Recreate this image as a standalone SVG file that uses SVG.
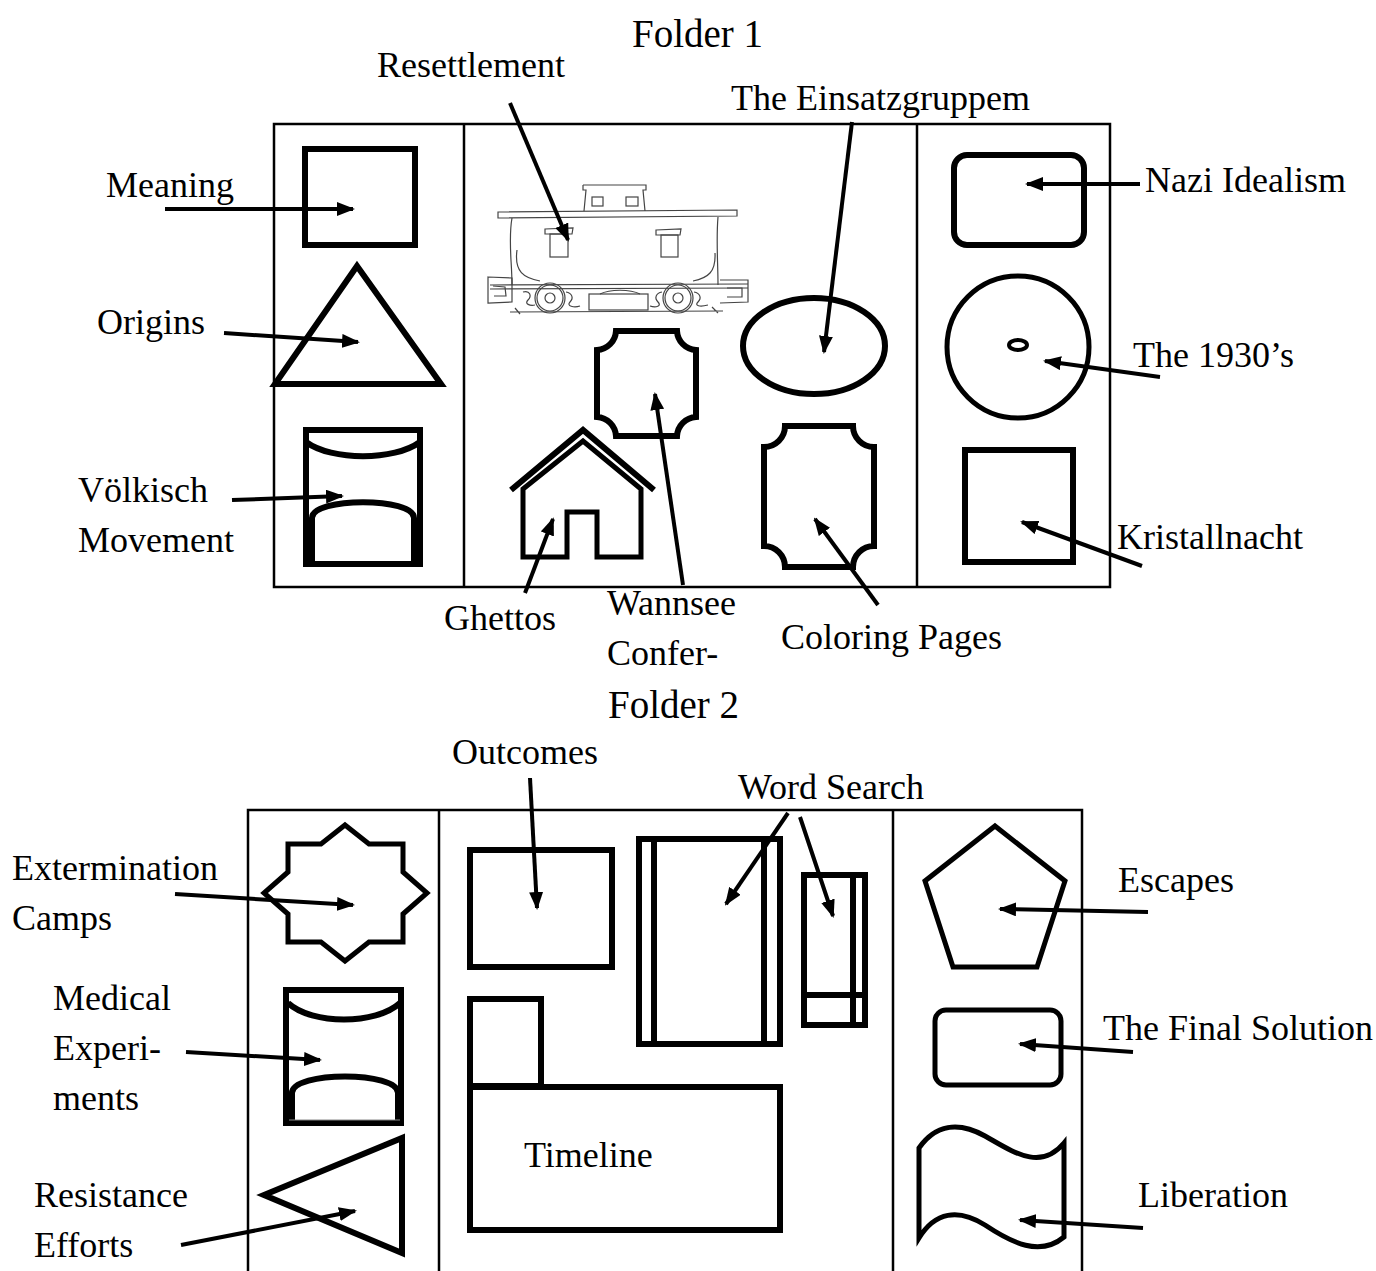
<svg xmlns="http://www.w3.org/2000/svg" width="1376" height="1271" viewBox="0 0 1376 1271">
<defs>
<style>
.t{font-family:"Liberation Serif","Times New Roman",serif;font-size:36px;fill:#000}
.h{font-family:"Liberation Serif","Times New Roman",serif;font-size:39px;fill:#000}
.fr{fill:none;stroke:#000;stroke-width:2.5}
.sh{fill:none;stroke:#000;stroke-width:6;stroke-linejoin:miter}
.sh5{fill:none;stroke:#000;stroke-width:5}
.cab{fill:none;stroke:#444;stroke-width:1.2}
.arr{fill:none;stroke:#000;stroke-width:4;marker-end:url(#ah)}
</style>
<marker id="ah" markerUnits="userSpaceOnUse" markerWidth="18" markerHeight="14" viewBox="0 0 18 14" refX="16" refY="7" orient="auto">
<path d="M0,0 L18,7 L0,14 Z" fill="#000"/>
</marker>
</defs>
<rect width="1376" height="1271" fill="#fff"/>

<g id="folder1-frame">
<rect class="fr" x="274" y="124" width="836" height="463"/>
<line class="fr" x1="464" y1="124" x2="464" y2="587" stroke-width="3"/>
<line class="fr" x1="917" y1="124" x2="917" y2="587" stroke-width="3"/>
</g>
<g id="folder2-frame">
<path class="fr" d="M248,1271 V810 H1082 V1271"/>
<line class="fr" x1="439" y1="810" x2="439" y2="1271" stroke-width="3"/>
<line class="fr" x1="893" y1="810" x2="893" y2="1271" stroke-width="3"/>
</g>

<g id="titles">
<text class="h" x="632" y="47">Folder 1</text>
<text class="h" x="608" y="718">Folder 2</text>
</g>

<g id="meaning"><rect class="sh" x="305" y="149" width="110" height="96"/><text class="t" x="106" y="197">Meaning</text></g>
<g id="origins"><polygon class="sh" points="357,266 441,384 275,384"/><text class="t" x="97" y="334">Origins</text></g>
<g id="volkisch">
<rect class="sh" x="306" y="430" width="114" height="134"/>
<path class="sh" d="M306,442 C332,461 394,461 420,442"/>
<path class="sh" d="M312,564 V518 C312,497 414,497 414,518 V564"/>
<text class="t" x="78" y="502">Völkisch</text><text class="t" x="78" y="552">Movement</text>
</g>

<g id="resettlement">
<g class="cab">
<path d="M583,185 L646,185 L646,190 L643,190 L645,211 M583,185 L583,190 L586,190 L584,211"/>
<rect x="592" y="197" width="11" height="9"/>
<rect x="626" y="197" width="12" height="9"/>
<path d="M498,212 L737,210 L737,216 L498,218 Z"/>
<path d="M512,218 C508,240 512,262 512,285 M718,217 C716,240 718,262 718,285"/>
<path d="M545,229 L573,228 L572,234 L545,234 Z"/>
<rect x="550" y="234" width="18" height="23"/>
<path d="M656,230 L681,229 L680,235 L656,235 Z"/>
<rect x="661" y="235" width="17" height="22"/>
<path d="M517,250 C514,272 524,278 540,281 M715,253 C716,272 708,278 693,281"/>
<path d="M490,285 L748,284 M490,289 L748,288"/>
<path d="M488,277 L512,278 L512,302 L488,303 Z M493,286 L505,287 L506,296 L494,296"/>
<path d="M720,280 L748,280 L748,302 L720,303 M727,288 L742,288 L742,297 L727,297"/>
<circle cx="550" cy="298" r="15"/><circle cx="550" cy="298" r="13"/><circle cx="550" cy="298" r="5"/>
<circle cx="678" cy="298" r="15"/><circle cx="678" cy="298" r="13"/><circle cx="678" cy="298" r="5"/>
<path d="M523,292 C530,290 532,296 528,300 C524,304 530,306 535,305 M566,292 C572,293 574,298 570,302 C566,306 574,308 580,306"/>
<path d="M662,292 C656,293 654,298 658,302 C662,306 656,308 650,306 M694,292 C700,293 702,298 698,302 C694,306 700,307 708,305"/>
<rect x="589" y="294" width="59" height="16"/>
<path d="M510,312 L723,311 M515,308 L520,314 M712,307 L718,313"/>
<path d="M600,294 C610,289 630,289 640,294"/>
</g>
<text class="t" x="377" y="77">Resettlement</text>
</g>

<g id="ghettos">
<polyline class="sh" points="511,490 583,430 654,490" stroke-width="7"/>
<polygon class="sh5" points="523,489 583,441 641,489 641,557 597,557 597,512 567,512 567,557 523,557"/>
<text class="t" x="444" y="630">Ghettos</text>
</g>

<g id="wannsee">
<path class="sh" d="M616,331 H677 A20,20 0 0 0 696,350 V417 A20,20 0 0 0 677,436 H616 A20,20 0 0 0 597,417 V350 A20,20 0 0 0 616,331 Z"/>
<text class="t" x="607" y="615">Wannsee</text><text class="t" x="607" y="665">Confer-</text>
</g>

<g id="einsatzgruppem">
<ellipse class="sh" cx="814" cy="346" rx="71" ry="48"/>
<text class="t" x="731" y="110">The Einsatzgruppem</text>
</g>

<g id="coloring">
<path class="sh" d="M785,426 H853 A21,21 0 0 0 874,447 V546 A21,21 0 0 0 853,567 H785 A21,21 0 0 0 764,546 V447 A21,21 0 0 0 785,426 Z"/>
<text class="t" x="781" y="649">Coloring Pages</text>
</g>

<g id="nazi-idealism"><rect class="sh" x="954" y="155" width="130" height="90" rx="13"/><text class="t" x="1145" y="192">Nazi Idealism</text></g>
<g id="the-1930s">
<circle class="sh5" cx="1018" cy="347" r="71"/>
<ellipse cx="1018" cy="345" rx="9" ry="5" fill="none" stroke="#000" stroke-width="4"/>
<text class="t" x="1133" y="367">The 1930’s</text>
</g>
<g id="kristallnacht"><rect class="sh" x="965" y="450" width="108" height="112"/><text class="t" x="1117" y="549">Kristallnacht</text></g>

<g id="extermination">
<polygon class="sh5" points="345,825 369,844 403,844 403,872 427,893 403,914 403,942 369,942 345,961 321,942 288,942 288,914 264,893 288,872 288,844 321,844"/>
<text class="t" x="12" y="880">Extermination</text><text class="t" x="12" y="930">Camps</text>
</g>
<g id="medical">
<rect class="sh" x="286" y="990" width="115" height="133"/>
<path class="sh" d="M288,1003 C312,1025 376,1025 400,1003"/>
<path class="sh" d="M292,1122 V1093 C292,1071 398,1071 398,1093 V1122"/>
<line x1="289" y1="1120" x2="400" y2="1120" stroke="#888" stroke-width="1"/>
<text class="t" x="53" y="1010">Medical</text><text class="t" x="53" y="1060">Experi-</text><text class="t" x="53" y="1110">ments</text>
</g>
<g id="resistance">
<polygon class="sh" points="402,1138 402,1253 264,1195"/>
<text class="t" x="34" y="1207">Resistance</text><text class="t" x="34" y="1257">Efforts</text>
</g>

<g id="outcomes"><rect class="sh" x="470" y="850" width="142" height="117"/><text class="t" x="452" y="764">Outcomes</text></g>
<g id="word-search">
<rect class="sh" x="639" y="839" width="141" height="205"/>
<line class="sh" x1="654" y1="839" x2="654" y2="1044"/>
<line class="sh" x1="764" y1="839" x2="764" y2="1044"/>
<rect class="sh" x="804" y="875" width="61" height="150"/>
<line class="sh" x1="853" y1="875" x2="853" y2="1025"/>
<line class="sh" x1="804" y1="995" x2="865" y2="995"/>
<text class="t" x="738" y="799">Word Search</text>
</g>
<g id="timeline">
<rect class="sh" x="470" y="999" width="71" height="87"/>
<rect class="sh" x="470" y="1087" width="310" height="143"/>
<text class="t" x="524" y="1167">Timeline</text>
</g>

<g id="escapes"><polygon class="sh5" points="995,826 1065,881 1037,967 953,967 925,881"/><text class="t" x="1118" y="892">Escapes</text></g>
<g id="final-solution"><rect class="sh5" x="935" y="1010" width="126" height="75" rx="11"/><text class="t" x="1103" y="1040">The Final Solution</text></g>
<g id="liberation">
<path class="sh5" d="M919,1148 C935,1125 958,1121 985,1136 C1012,1151 1040,1172 1064,1143 V1237 C1040,1257 1012,1243 985,1225 C958,1208 935,1212 919,1238 Z"/>
<text class="t" x="1138" y="1207">Liberation</text>
</g>

<g id="connectors">
<line class="arr" x1="510" y1="103" x2="568" y2="240"/>
<line class="arr" x1="852" y1="122" x2="824" y2="352"/>
<line class="arr" x1="165" y1="209" x2="353" y2="209"/>
<line class="arr" x1="1140" y1="184" x2="1027" y2="184"/>
<line class="arr" x1="224" y1="333" x2="358" y2="342"/>
<line class="arr" x1="1160" y1="377" x2="1045" y2="361"/>
<line class="arr" x1="232" y1="500" x2="342" y2="496"/>
<line class="arr" x1="1142" y1="566" x2="1022" y2="522"/>
<line class="arr" x1="525" y1="593" x2="553" y2="519"/>
<line class="arr" x1="683" y1="585" x2="655" y2="394"/>
<line class="arr" x1="878" y1="605" x2="815" y2="519"/>
<line class="arr" x1="530" y1="778" x2="537" y2="908"/>
<line class="arr" x1="788" y1="813" x2="726" y2="904"/>
<line class="arr" x1="800" y1="817" x2="833" y2="916"/>
<line class="arr" x1="175" y1="894" x2="353" y2="905"/>
<line class="arr" x1="1148" y1="912" x2="1000" y2="909"/>
<line class="arr" x1="186" y1="1052" x2="320" y2="1060"/>
<line class="arr" x1="1133" y1="1052" x2="1020" y2="1044"/>
<line class="arr" x1="181" y1="1245" x2="355" y2="1211"/>
<line class="arr" x1="1143" y1="1228" x2="1020" y2="1220"/>
</g>
</svg>
